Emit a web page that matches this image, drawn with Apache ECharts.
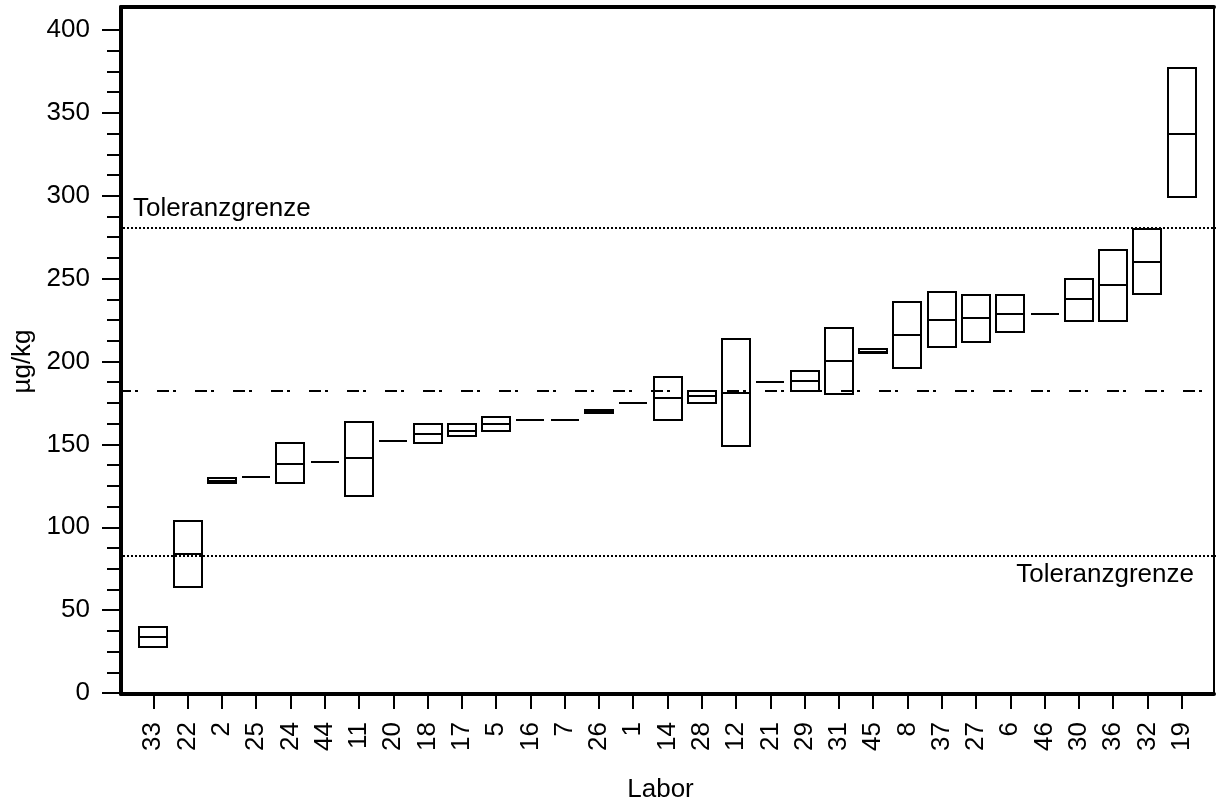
<!DOCTYPE html>
<html>
<head>
<meta charset="utf-8">
<script src="https://cdn.jsdelivr.net/npm/echarts@6/dist/echarts.min.js"></script>
<style>
  html, body { margin: 0; padding: 0; background: #fff; }
  #main { width: 1223px; height: 806px; }
</style>
</head>
<body>
<div id="main"></div>
<script>
// Labore (Reihenfolge wie auf der Achse)
var labore = ['33', '22', '2', '25', '24', '44', '11', '20', '18', '17', '5', '16', '7', '26', '1',
    '14', '28', '12', '21', '29', '31', '45', '8', '37', '27', '6', '46', '30', '36', '32', '19'];
// untere Grenze, Mittelwert, obere Grenze je Labor (µg/kg)
var unten = [28, 64, 126.5, 130.5, 126.5, 139.3, 119, 152, 150.8, 155, 158, 165, 164.8, 169, 175,
    165, 175, 149, 187.6, 182.5, 180.5, 205, 196, 209, 211.5, 217.5, 228.8, 224.5, 224.5, 240.5, 299];
var mitte = [34, 84, 128, 130.5, 138, 139.3, 142, 152, 156.3, 158, 162, 165, 164.8, 170, 175,
    178, 179, 181, 187.6, 188, 200.5, 206, 216, 225, 226, 228.5, 228.8, 237.5, 246, 260, 337];
var oben = [40, 104, 129.5, 130.5, 151, 139.3, 163.5, 152, 162.2, 162, 166.5, 165, 164.8, 171, 175,
    190.5, 182, 213.5, 187.6, 194.5, 220.5, 207.5, 236, 242, 240, 240, 228.8, 250, 267, 280, 377];
// Referenzlinien
var toleranzOben = 280.5;
var sollwert = 182.5;
var toleranzUnten = 83;
var yTicks = [0, 400, 50];

var schrift = '"Liberation Sans", Arial, sans-serif';
var gross = 26;

// leere Kategorien an beiden Enden, damit Abstand zum Rahmen stimmt
var kategorien = [''].concat(labore).concat(['']);
var boxDaten = [];
for (var i = 0; i < labore.length; i++) {
    boxDaten.push([i + 1, unten[i], mitte[i], oben[i]]);
}

function renderBox(params, api) {
    var x = api.value(0);
    var lo = api.coord([x, api.value(1)]);
    var md = api.coord([x, api.value(2)]);
    var hi = api.coord([x, api.value(3)]);
    var w = Math.round(api.size([1, 0])[0] * 0.83);
    var x0 = Math.round(lo[0] - w / 2);
    var yLo = Math.round(lo[1]), yMd = Math.round(md[1]), yHi = Math.round(hi[1]);
    var stil = { stroke: '#000', lineWidth: 2, fill: null };
    return {
        type: 'group',
        children: [
            { type: 'rect', shape: { x: x0, y: yHi, width: w, height: yLo - yHi }, style: stil },
            { type: 'line', shape: { x1: x0, y1: yMd, x2: x0 + w, y2: yMd }, style: stil }
        ]
    };
}

var rahmenAchse = function (pos, breite, gitter) {
    return {
        gridIndex: gitter, type: 'value', min: 0, max: 1, position: pos,
        axisLine: { show: true, onZero: false, lineStyle: { color: '#000', width: breite } },
        axisTick: { show: false }, axisLabel: { show: false }, splitLine: { show: false }
    };
};

var myChart = echarts.init(document.getElementById('main'));
var option = {
    animation: false,
    backgroundColor: '#fff',
    textStyle: { fontFamily: schrift, color: '#000' },
    grid: [
        { left: 119, right: 7, top: 30, bottom: 113, outerBoundsMode: 'none', containLabel: false },   // Daten
        { left: 121, right: 9, top: 7, bottom: 112, outerBoundsMode: 'none', containLabel: false }     // Rahmen
    ],
    xAxis: [
        {
            gridIndex: 0,
            type: 'category',
            data: kategorien,
            boundaryGap: false,
            name: 'Labor',
            nameLocation: 'middle',
            nameGap: 84,
            nameTextStyle: { fontSize: gross, color: '#000', fontFamily: schrift, padding: [0, 14, 0, 0] },
            axisLine: { show: false },
            axisTick: {
                show: true, length: 16, lineStyle: { color: '#000', width: 2 },
                interval: function (idx, val) { return val !== ''; }
            },
            axisLabel: { interval: 0, rotate: 90, margin: 29, fontSize: gross, color: '#000', fontFamily: schrift },
            splitLine: { show: false }
        },
        rahmenAchse('bottom', 4, 1),
        rahmenAchse('top', 4, 1)
    ],
    yAxis: [
        {
            gridIndex: 0,
            type: 'value',
            min: yTicks[0],
            max: yTicks[1],
            interval: yTicks[2],
            name: 'µg/kg',
            nameLocation: 'middle',
            nameGap: 83,
            nameTextStyle: { fontSize: gross, color: '#000', fontFamily: schrift },
            axisLine: { show: false },
            axisTick: { show: true, length: 17, lineStyle: { color: '#000', width: 2 } },
            minorTick: { show: true, splitNumber: 4, length: 12, lineStyle: { color: '#000', width: 2 } },
            axisLabel: { margin: 29, fontSize: gross, color: '#000', fontFamily: schrift },
            splitLine: { show: false },
            minorSplitLine: { show: false }
        },
        rahmenAchse('left', 4, 1),
        rahmenAchse('right', 2, 1)
    ],
    series: [
        {
            type: 'custom',
            xAxisIndex: 0,
            yAxisIndex: 0,
            renderItem: renderBox,
            data: boxDaten,
            z: 5
        },
        {
            type: 'line',
            xAxisIndex: 0,
            yAxisIndex: 0,
            data: [],
            markLine: {
                silent: true,
                symbol: ['none', 'none'],
                data: [
                    {
                        yAxis: toleranzOben,
                        lineStyle: { color: '#000', width: 2, type: [2, 2] },
                        label: {
                            show: true, position: 'insideStartTop', formatter: 'Toleranzgrenze',
                            fontSize: gross, color: '#000', fontFamily: schrift, distance: [14, 6]
                        }
                    },
                    {
                        yAxis: sollwert,
                        lineStyle: { color: '#000', width: 2, type: [12, 4, 3, 19] },
                        label: { show: false }
                    },
                    {
                        yAxis: toleranzUnten,
                        lineStyle: { color: '#000', width: 2, type: [2, 2] },
                        label: {
                            show: true, position: 'insideEndBottom', formatter: 'Toleranzgrenze',
                            fontSize: gross, color: '#000', fontFamily: schrift, distance: [22, 6]
                        }
                    }
                ]
            }
        }
    ]
};
myChart.setOption(option);
</script>
</body>
</html>
